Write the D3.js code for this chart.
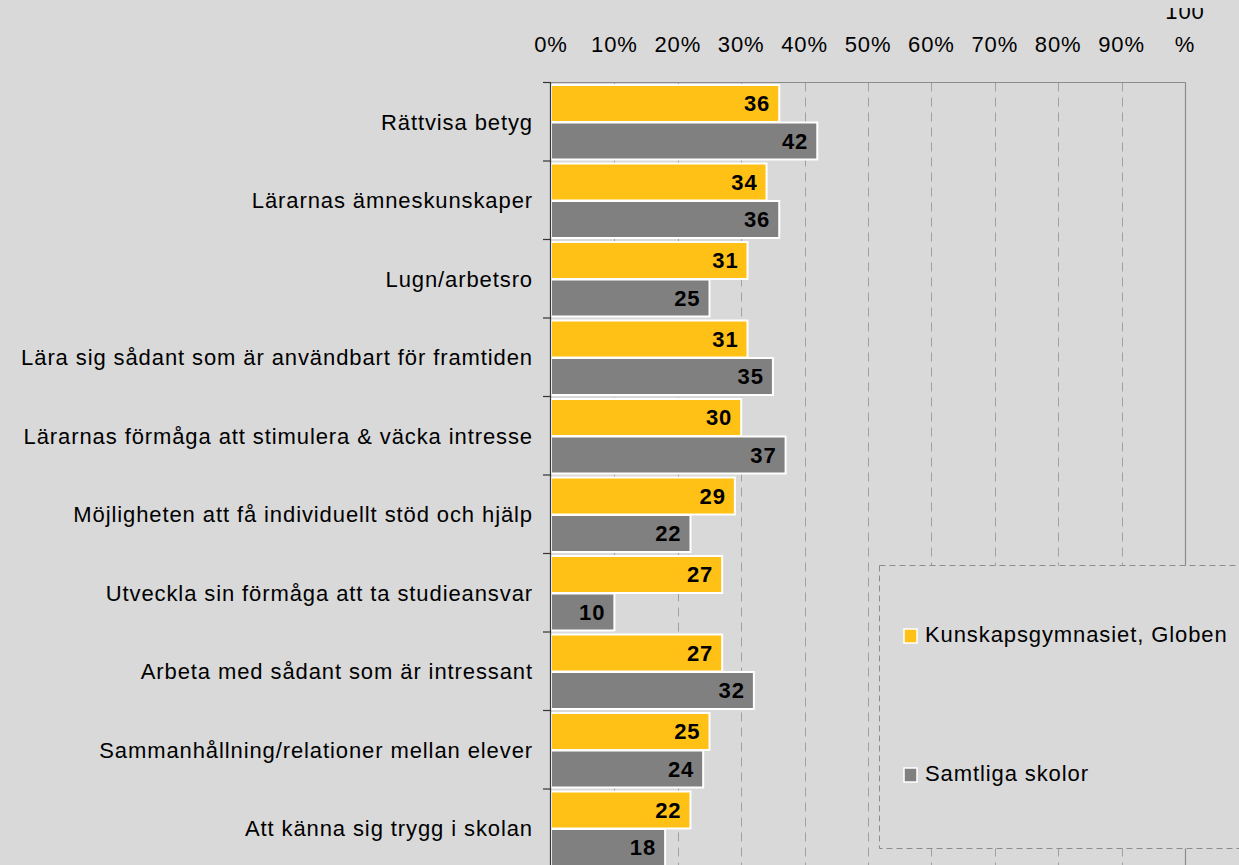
<!DOCTYPE html>
<html><head><meta charset="utf-8">
<script src="https://cdn.jsdelivr.net/npm/d3@7"></script>
<style>
html,body{margin:0;padding:0;background:#d9d9d9;overflow:hidden;}
svg{display:block;}
text{font-family:"Liberation Sans",Arial,sans-serif;}
</style></head><body>
<svg id="chart" width="1239" height="865"></svg>
<script>
const categories = [
  "Rättvisa betyg",
  "Lärarnas ämneskunskaper",
  "Lugn/arbetsro",
  "Lära sig sådant som är användbart för framtiden",
  "Lärarnas förmåga att stimulera & väcka intresse",
  "Möjligheten att få individuellt stöd och hjälp",
  "Utveckla sin förmåga att ta studieansvar",
  "Arbeta med sådant som är intressant",
  "Sammanhållning/relationer mellan elever",
  "Att känna sig trygg i skolan"
];
const seriesNames = ["Kunskapsgymnasiet, Globen", "Samtliga skolor"];
const globen = [36, 34, 31, 31, 30, 29, 27, 27, 25, 22];
const samtliga = [42, 36, 25, 35, 37, 22, 10, 32, 24, 18];
const tickValues = [0, 10, 20, 30, 40, 50, 60, 70, 80, 90, 100];
const tickLabels = ["0%", "10%", "20%", "30%", "40%", "50%", "60%", "70%", "80%", "90%", "100 %"];
const colors = ["#ffc116", "#808080"];

(function () {
const svg = d3.select("#chart");
const W = 1239, H = 865;
const plotLeft = 551, plotRight = 1185, plotTop = 82.5, bandH = 78.5;
const x = d3.scaleLinear().domain([0, 100]).range([plotLeft, plotRight]);
const y = d3.scaleBand().domain(categories).range([plotTop, plotTop + bandH * categories.length]).paddingInner(0).paddingOuter(0);
const sub = d3.scaleBand().domain([0, 1]).range([2.5, bandH - 1]).padding(0.0);

svg.append("rect").attr("width", W).attr("height", H).attr("fill", "#d9d9d9");

// gridlines
svg.append("g").selectAll("line").data(tickValues.filter(v => v > 0 && v < 100)).join("line")
  .attr("x1", d => Math.round(x(d)) + 0.5).attr("x2", d => Math.round(x(d)) + 0.5)
  .attr("y1", plotTop).attr("y2", H + 5)
  .attr("stroke", "#a0a0a0").attr("stroke-width", 1).attr("stroke-dasharray", "9,6");

// plot border top & right
svg.append("line").attr("x1", plotLeft - 1).attr("x2", plotRight + 0.5).attr("y1", plotTop).attr("y2", plotTop)
  .attr("stroke", "#8c8c8c").attr("stroke-width", 1.2);
svg.append("line").attr("x1", plotRight + 0.5).attr("x2", plotRight + 0.5).attr("y1", plotTop).attr("y2", H + 5)
  .attr("stroke", "#8c8c8c").attr("stroke-width", 1.2);

// top axis labels
const topAxis = svg.append("g");
svg.append("defs").append("clipPath").attr("id", "clip100")
  .append("rect").attr("x", 1100).attr("y", 8).attr("width", 139).attr("height", 60);
tickValues.forEach((v, i) => {
  const lbl = tickLabels[i];
  if (lbl === "100 %") {
    const g = topAxis.append("g").attr("clip-path", "url(#clip100)");
    g.append("text").attr("x", x(v)).attr("y", 19).attr("text-anchor", "middle")
      .attr("font-size", 22).attr("letter-spacing", 0.9).attr("fill", "#000").text("100");
    g.append("text").attr("x", x(v)).attr("y", 52).attr("text-anchor", "middle")
      .attr("font-size", 22).attr("letter-spacing", 0.9).attr("fill", "#000").text("%");
  } else {
    topAxis.append("text").attr("x", x(v)).attr("y", 52).attr("text-anchor", "middle")
      .attr("font-size", 22).attr("letter-spacing", 0.9).attr("fill", "#000").text(lbl);
  }
});

// bars
const data = categories.map((c, i) => ({ c, vals: [globen[i], samtliga[i]] }));
const groups = svg.append("g").selectAll("g").data(data).join("g")
  .attr("transform", d => `translate(0,${y(d.c)})`);
groups.selectAll("rect").data(d => d.vals.map((v, k) => ({ v, k }))).join("rect")
  .attr("x", plotLeft).attr("y", d => sub(d.k)).attr("width", d => x(d.v) - plotLeft)
  .attr("height", sub.bandwidth() - 0.5)
  .attr("fill", d => colors[d.k]).attr("stroke", "#ffffff").attr("stroke-width", 2);
groups.selectAll("text.val").data(d => d.vals.map((v, k) => ({ v, k }))).join("text")
  .attr("class", "val")
  .attr("x", d => x(d.v) - 9).attr("y", d => sub(d.k) + sub.bandwidth() / 2 + 7.5)
  .attr("text-anchor", "end").attr("font-size", 22).attr("font-weight", "bold")
  .attr("letter-spacing", 0.9).attr("fill", "#000").text(d => d.v);

// category labels
svg.append("g").selectAll("text").data(categories).join("text")
  .attr("x", 533).attr("y", d => y(d) + bandH / 2 + 8)
  .attr("text-anchor", "end").attr("font-size", 22).attr("letter-spacing", 0.9)
  .attr("fill", "#000").text(d => d);

// left axis
svg.append("line").attr("x1", plotLeft - 0.5).attr("x2", plotLeft - 0.5).attr("y1", plotTop).attr("y2", H + 5)
  .attr("stroke", "#333").attr("stroke-width", 1.2);
svg.append("g").selectAll("line").data(d3.range(categories.length)).join("line")
  .attr("x1", plotLeft - 8).attr("x2", plotLeft - 0.5)
  .attr("y1", i => plotTop + i * bandH).attr("y2", i => plotTop + i * bandH)
  .attr("stroke", "#333").attr("stroke-width", 1.2);

// legend
const lg = svg.append("g");
lg.append("rect").attr("x", 879.5).attr("y", 565.5).attr("width", 420).attr("height", 283)
  .attr("fill", "#d9d9d9").attr("stroke", "#8c8c8c").attr("stroke-width", 1).attr("stroke-dasharray", "6,4");
const legendY = [636, 775];
seriesNames.forEach((n, i) => {
  lg.append("rect").attr("x", 904).attr("y", legendY[i] - 7).attr("width", 13).attr("height", 14)
    .attr("fill", colors[i]).attr("stroke", "#fff").attr("stroke-width", 1.5);
  lg.append("text").attr("x", 925).attr("y", legendY[i] + 6).attr("font-size", 22)
    .attr("letter-spacing", 0.9).attr("fill", "#000").text(n);
});
})();
</script>
</body></html>
